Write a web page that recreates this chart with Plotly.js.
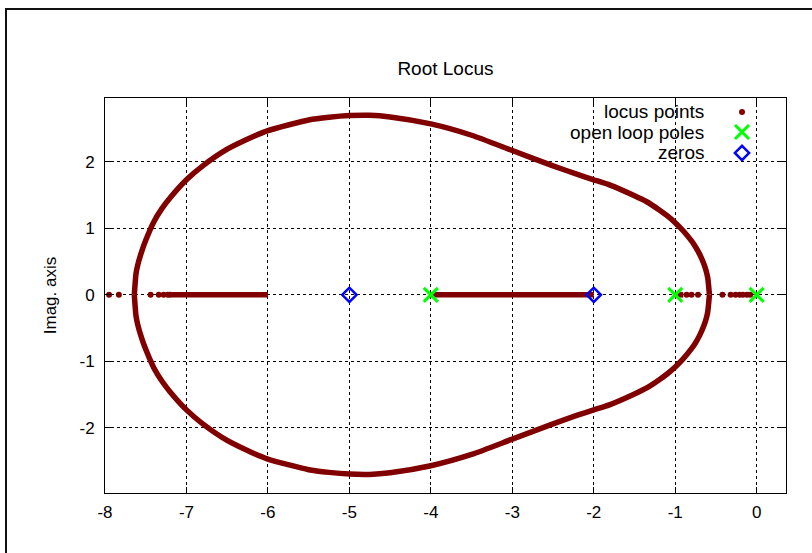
<!DOCTYPE html>
<html>
<head>
<meta charset="utf-8">
<script src="https://cdn.plot.ly/plotly-3.0.1.min.js"></script>
<style>
  html, body { margin: 0; padding: 0; background: #fff; }
  #wrap { position: relative; width: 812px; height: 553px; overflow: hidden; }
  #chart { position: absolute; left: 0; top: 0; width: 812px; height: 553px; }
  #frame { position: absolute; left: 5px; top: 8px; width: 820px; height: 560px;
           border-left: 2px solid #111; border-top: 2px solid #111; pointer-events: none; }
</style>
</head>
<body>
<div id="wrap">
  <div id="chart"></div>
  <div id="frame"></div>
</div>
<script>
// Complex branch (upper half), from the left break-in point to the right breakaway point
const upperX = [-7.64, -7.62, -7.60, -7.55, -7.50, -7.40, -7.30, -7.20, -7.00, -6.80, -6.50, -6.20, -6.00,
                -5.50, -5.25, -5.00, -4.75, -4.50, -4.00, -3.50, -3.00, -2.50, -2.20, -2.00, -1.80, -1.50,
                -1.35, -1.20, -1.10, -1.00, -0.90, -0.80, -0.75, -0.70, -0.65, -0.62, -0.60, -0.58];
const upperY = [0.00, 0.31, 0.44, 0.65, 0.82, 1.10, 1.30, 1.46, 1.73, 1.94, 2.19, 2.37, 2.47,
                2.63, 2.67, 2.695, 2.70, 2.675, 2.57, 2.40, 2.17, 1.94, 1.81, 1.73, 1.65, 1.49,
                1.40, 1.28, 1.19, 1.085, 0.96, 0.81, 0.72, 0.61, 0.47, 0.36, 0.25, 0.00];
// Complex branch (lower half)
const lowerX = [-7.64, -7.62, -7.60, -7.55, -7.50, -7.40, -7.30, -7.20, -7.00, -6.80, -6.50, -6.20, -6.00,
                -5.50, -5.25, -5.00, -4.75, -4.50, -4.00, -3.50, -3.00, -2.50, -2.20, -2.00, -1.80, -1.50,
                -1.35, -1.20, -1.10, -1.00, -0.90, -0.80, -0.75, -0.70, -0.65, -0.62, -0.60, -0.58];
const lowerY = [0.00, -0.31, -0.44, -0.65, -0.82, -1.10, -1.30, -1.46, -1.73, -1.94, -2.19, -2.37, -2.47,
                -2.63, -2.67, -2.695, -2.70, -2.675, -2.57, -2.40, -2.17, -1.94, -1.81, -1.73, -1.65, -1.49,
                -1.40, -1.28, -1.19, -1.085, -0.96, -0.81, -0.72, -0.61, -0.47, -0.36, -0.25, 0.00];

// Real-axis branches where the gain samples crowd together
const denseLeftX  = [-7.18, -6.00];
const denseMidX   = [-4.00, -2.00];
const denseRightX = [-1.00, -0.90];
// Isolated real-axis samples
const sparseX = [-7.95, -7.83, -7.44, -7.34, -7.28, -7.23, -7.20,
                 -0.86, -0.80, -0.72, -0.42, -0.32, -0.26, -0.21, -0.17, -0.12, -0.08];

const polesX = [0, -1, -4];
const zerosX = [-2, -5];

const xTicks = [-8, -7, -6, -5, -4, -3, -2, -1, 0];
const xTickText = ['-8', '-7', '-6', '-5', '-4', '-3', '-2', '-1', '0'];
const yTicks = [-2, -1, 0, 1, 2];
const yTickText = ['-2', '-1', '0', '1', '2'];

const LOCUS = '#800000';
const FONT = 'Liberation Sans, Arial, sans-serif';

function zerosLike(a) { return a.map(() => 0); }

// stitch the continuous pieces into one line trace, separated by gaps
const segs = [[upperX, upperY], [lowerX, lowerY],
              [denseLeftX, zerosLike(denseLeftX)], [denseMidX, zerosLike(denseMidX)],
              [denseRightX, zerosLike(denseRightX)]];
const lineX = [], lineY = [];
segs.forEach(([sx, sy], i) => {
  if (i) { lineX.push(null); lineY.push(null); }
  lineX.push(...sx); lineY.push(...sy);
});

const dotMarker = { color: LOCUS, size: 6 };
const poleMarker = { symbol: 'x-thin-open', size: 14, color: '#00ff00', line: { color: '#00ff00', width: 3 } };
const zeroMarker = { symbol: 'diamond-open', size: 11, color: '#0000ff', line: { color: '#0000ff', width: 2.5 } };

// key entries: label, sample marker, row position (paper fraction of the plot area)
const keyLabels = ['locus points', 'open loop poles', 'zeros'];
const keyMarkers = [dotMarker, poleMarker, zeroMarker];
const keyRows = [0.9646, 0.9139, 0.8608];
const keyTextX = 0.8825, keySymX = 0.9354;

const traces = [
  { x: lineX, y: lineY, mode: 'lines', line: { color: LOCUS, width: 5.5, shape: 'spline', smoothing: 0.6 },
    connectgaps: false, hoverinfo: 'skip', showlegend: false },
  { x: sparseX, y: zerosLike(sparseX), mode: 'markers', name: 'locus points', marker: dotMarker, showlegend: false },
  { x: polesX, y: zerosLike(polesX), mode: 'markers', name: 'open loop poles', marker: poleMarker, showlegend: false },
  { x: zerosX, y: zerosLike(zerosX), mode: 'markers', name: 'zeros', marker: zeroMarker, showlegend: false }
];
// key samples, drawn on an overlay axis spanning the plot area
keyMarkers.forEach((m, i) => traces.push({
  x: [keySymX], y: [keyRows[i]], xaxis: 'x2', yaxis: 'y2', mode: 'markers',
  hoverinfo: 'skip', marker: m, showlegend: false
}));

const axisCommon = {
  showline: true, mirror: 'ticks', linecolor: '#000', linewidth: 1,
  ticks: 'inside', ticklen: 6, tickcolor: '#000', tickwidth: 1,
  showgrid: true, gridcolor: '#000', gridwidth: 1, griddash: '3px,3px',
  zeroline: false, tickmode: 'array',
  tickfont: { family: FONT, size: 17, color: '#000' }
};

const layout = {
  width: 812, height: 553,
  margin: { l: 105, r: 26, t: 98, b: 60 },
  paper_bgcolor: '#fff', plot_bgcolor: '#fff',
  title: { text: 'Root Locus', font: { family: FONT, size: 19, color: '#000' },
           x: 0.5486, xanchor: 'center', y: 0.877, yanchor: 'middle' },
  xaxis: Object.assign({}, axisCommon, { range: [-8, 0.36], tickvals: xTicks, ticktext: xTickText,
           ticklabelstandoff: 4 }),
  yaxis: Object.assign({}, axisCommon, { range: [-2.98, 2.96], tickvals: yTicks, ticktext: yTickText,
           ticklabelstandoff: 6,
           title: { text: 'Imag. axis', font: { family: FONT, size: 17, color: '#000' }, standoff: 18 } }),
  xaxis2: { overlaying: 'x', range: [0, 1], visible: false, fixedrange: true },
  yaxis2: { overlaying: 'y', range: [0, 1], visible: false, fixedrange: true },
  annotations: keyLabels.map((t, i) => ({
    text: t, xref: 'paper', yref: 'paper', x: keyTextX, y: keyRows[i],
    xanchor: 'right', yanchor: 'middle', showarrow: false,
    font: { family: FONT, size: 19, color: '#000' }
  })),
  showlegend: false
};

Plotly.newPlot('chart', traces, layout, { displayModeBar: false, staticPlot: true });
</script>
</body>
</html>
